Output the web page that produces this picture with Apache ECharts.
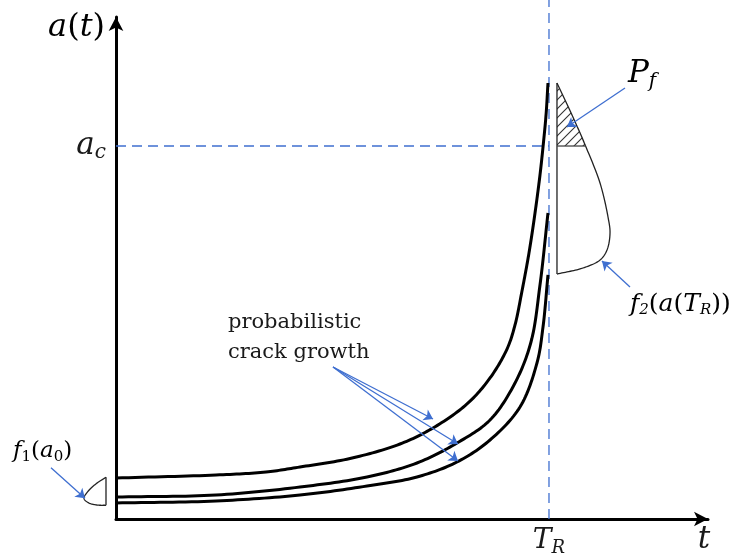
<!DOCTYPE html>
<html><head><meta charset="utf-8">
<script src="https://cdn.jsdelivr.net/npm/echarts@6/dist/echarts.min.js"></script>
<style>html,body{margin:0;padding:0;background:#fff}#c{width:740px;height:558px}</style>
</head><body><div id="c"></div>
<script>
// ---- data (t in axis units 0..100, a in axis units 0..100) ----
const tR = 73.14;          // T_R
const aC = 74.3;           // a_c
const curveUpper = [[0,8.17],[16.89,8.76],[25.34,9.36],[31.08,10.36],[39.53,12.05],[47.97,14.94],[53.55,18.13],[59.29,22.91],[63.18,28.09],[66.05,33.86],[67.40,38.65],[68.58,45.42],[69.76,52.99],[70.78,60.96],[71.62,68.53],[72.13,74.10],[72.64,80.48],[72.97,86.85]];
const curveMiddle = [[0,4.38],[16.89,4.78],[31.08,6.37],[42.40,8.37],[50.84,11.16],[57.60,15.14],[63.18,19.72],[67.40,27.09],[70.10,35.26],[71.62,46.61],[72.97,60.96]];
const curveLower = [[0,3.19],[16.89,3.59],[31.08,4.78],[42.40,6.57],[50.84,8.37],[57.60,11.35],[63.18,15.74],[68.24,22.31],[71.11,31.08],[72.13,38.25],[72.97,48.61]];
const f2Curve = [[74.49,86.85],[77.03,80.48],[79.39,74.10],[81.76,66.93],[83.11,60.16],[83.45,56.97],[82.94,53.59],[81.76,51.59],[78.89,50.00],[74.49,48.80]];
const f1Curve = [[-1.69,8.31],[-3.26,7.11],[-4.68,5.58],[-5.41,4.12],[-4.68,3.25],[-3.26,2.79],[-1.69,2.73]];
const arrowPf = [[85.98,85.86],[76.18,78.09]];
const arrowF2 = [[86.82,46.22],[82.09,51.39]];
const arrowF1 = [[-10.98,10.22],[-5.24,4.12]];
const crackArrowStart = [36.66,30.28];
const crackArrowEnds = [[53.55,19.92],[57.77,14.94],[57.77,11.55]];
const yTop = 103.4;
const tickLabelX = 'T';
const tickLabelY = 'a';

const blue = '#3f6fd0';
const mathFont = 'DejaVu Serif';

// centripetal Catmull-Rom through pixel points (points come from api.coord)
function spline(pts) {
  const n = pts.length;
  const ext = [[2*pts[0][0]-pts[1][0], 2*pts[0][1]-pts[1][1]]].concat(pts,
    [[2*pts[n-1][0]-pts[n-2][0], 2*pts[n-1][1]-pts[n-2][1]]]);
  const dist = (a,b)=>Math.hypot(a[0]-b[0], a[1]-b[1]);
  const out = [pts[0]];
  for (let i = 1; i < ext.length - 2; i++) {
    const p0=ext[i-1], p1=ext[i], p2=ext[i+1], p3=ext[i+2];
    const d1=Math.sqrt(dist(p0,p1))||1e-6, d2=Math.sqrt(dist(p1,p2))||1e-6, d3=Math.sqrt(dist(p2,p3))||1e-6;
    const b1=[0,1].map(k=>(d1*d1*p2[k]-d2*d2*p0[k]+(2*d1*d1+3*d1*d2+d2*d2)*p1[k])/(3*d1*(d1+d2)));
    const b2=[0,1].map(k=>(d3*d3*p1[k]-d2*d2*p3[k]+(2*d3*d3+3*d3*d2+d2*d2)*p2[k])/(3*d3*(d3+d2)));
    for (let s = 1; s <= 16; s++) {
      const t = s/16, u = 1-t;
      out.push([0,1].map(k=>u*u*u*p1[k]+3*u*u*t*b1[k]+3*u*t*t*b2[k]+t*t*t*p2[k]));
    }
  }
  return out;
}

// hatch pattern
const pc = document.createElement('canvas'); pc.width = 9; pc.height = 9;
const pctx = pc.getContext('2d');
pctx.strokeStyle = '#333'; pctx.lineWidth = 1.1;
pctx.beginPath();
pctx.moveTo(0,9); pctx.lineTo(9,0);
pctx.moveTo(-1,1); pctx.lineTo(1,-1);
pctx.moveTo(8,10); pctx.lineTo(10,8);
pctx.stroke();

const f2Base = f2Curve[0][0];
const hatchPoly = [f2Curve[0], f2Curve[1], [f2Curve[2][0], aC], [f2Base, aC]];

const chart = echarts.init(document.getElementById('c'), null, {renderer:'canvas'});
const mi = {fontFamily: mathFont, fontStyle:'italic', color:'#1a1a1a'};
const mn = {fontFamily: mathFont, color:'#1a1a1a'};

const curveSeries = (data, color, width, closeBase) => ({type:'custom', clip:false, silent:true, z:3,
  data:[data[0]],
  renderItem:(params, api)=>{
    const pts = data.map(p=>api.coord(p));
    const children = [{type:'polyline', shape:{points:spline(pts)},
      style:{stroke:color, lineWidth:width, fill:null, lineJoin:'round', lineCap:'butt'}}];
    if (closeBase) children.push({type:'line',
      shape:{x1:pts[0][0], y1:pts[0][1], x2:pts[pts.length-1][0], y2:pts[pts.length-1][1]},
      style:{stroke:color, lineWidth:width}});
    return {type:'group', children};
  }});

chart.setOption({
  animation:false,
  grid:{left:116, top:17, right:32, bottom:39, outerBoundsMode:'none', containLabel:false},
  xAxis:{type:'value', min:0, max:100,
    axisLine:{show:true, onZero:false, lineStyle:{color:'#000', width:3}, symbol:['none','arrow'], symbolSize:[11,14]},
    axisTick:{show:false}, splitLine:{show:false},
    axisLabel:{customValues:[tR], margin:6, formatter:()=>'{i|'+tickLabelX+'}{s|R}',
      rich:{i:Object.assign({fontSize:28}, mi), s:Object.assign({fontSize:18, padding:[14,0,0,0]}, mi)}}},
  yAxis:{type:'value', min:0, max:100,
    axisLine:{show:true, onZero:false, lineStyle:{color:'#000', width:3}, symbol:['none','arrow'], symbolSize:[11,14]},
    axisTick:{show:false}, splitLine:{show:false},
    axisLabel:{customValues:[aC], margin:10, formatter:()=>'{i|'+tickLabelY+'}{s|c}',
      rich:{i:Object.assign({fontSize:31}, mi), s:Object.assign({fontSize:20, padding:[14,0,0,0]}, mi)}}},
  series:[
    {type:'line', data:[[tR,0],[tR,yTop]], showSymbol:false, clip:false, silent:true,
      lineStyle:{color:blue, width:1.3, type:[10,6]}, z:2},
    {type:'line', data:[[0,aC],[tR,aC]], showSymbol:false, clip:false, silent:true,
      lineStyle:{color:blue, width:1.3, type:[10,6]}, z:2},
    curveSeries(curveUpper, '#000', 3, false),
    curveSeries(curveMiddle, '#000', 3, false),
    curveSeries(curveLower, '#000', 3, false),
    {type:'custom', clip:false, silent:true, z:1,
      data:[hatchPoly[0]],
      renderItem:(params, api)=>({type:'polygon',
        shape:{points:hatchPoly.map(p=>api.coord(p))},
        style:{fill:{type:'pattern', image:pc, repeat:'repeat'}, stroke:null}})},
    curveSeries(f2Curve, '#222', 1.3, true),
    {type:'line', data:[[f2Base,aC],[f2Curve[2][0],aC]], showSymbol:false, clip:false, silent:true,
      lineStyle:{color:'#444', width:1.3}, z:3},
    curveSeries(f1Curve, '#222', 1.3, true),
    {type:'lines', coordinateSystem:'cartesian2d', clip:false, silent:true, z:4,
      symbol:['none','arrow'], symbolSize:9,
      lineStyle:{color:blue, width:1.3, opacity:1, curveness:0},
      data:[{coords:arrowPf},{coords:arrowF2},{coords:arrowF1}]
        .concat(crackArrowEnds.map(e=>({coords:[crackArrowStart, e]})))}
  ],
  graphic:[
    {type:'text', x:105, y:28, style:{text:'{i|a}{n|(}{i|t}{n|)}', align:'right', verticalAlign:'middle',
      rich:{i:Object.assign({fontSize:32}, mi), n:Object.assign({fontSize:32}, mn)}}},
    {type:'text', x:628, y:74, style:{text:'{i|P}{s|f}', align:'left', verticalAlign:'middle',
      rich:{i:Object.assign({fontSize:31}, mi), s:Object.assign({fontSize:20, padding:[16,0,0,0]}, mi)}}},
    {type:'text', x:630, y:304, style:{text:'{i|f}{s|2}{n|(}{i|a}{n|(}{i|T}{s|R}{n|))}', align:'left', verticalAlign:'middle',
      rich:{i:Object.assign({fontSize:25}, mi), n:Object.assign({fontSize:25}, mn), s:Object.assign({fontSize:15, padding:[12,0,0,0]}, mi)}}},
    {type:'text', x:13, y:451, style:{text:'{i|f}{s|1}{n|(}{i|a}{s|0}{n|)}', align:'left', verticalAlign:'middle',
      rich:{i:Object.assign({fontSize:23}, mi), n:Object.assign({fontSize:23}, mn), s:Object.assign({fontSize:15, padding:[12,0,0,0]}, mn)}}},
    {type:'text', x:228, y:338, style:{text:'probabilistic\ncrack growth', align:'left', verticalAlign:'middle',
      fontFamily:mathFont, fontSize:21, lineHeight:30, fill:'#1a1a1a'}},
    {type:'text', x:704, y:540, style:{text:'t', align:'center', verticalAlign:'middle',
      fontFamily:mathFont, fontStyle:'italic', fontSize:31, fill:'#1a1a1a'}}
  ]
});
</script>
</body></html>
